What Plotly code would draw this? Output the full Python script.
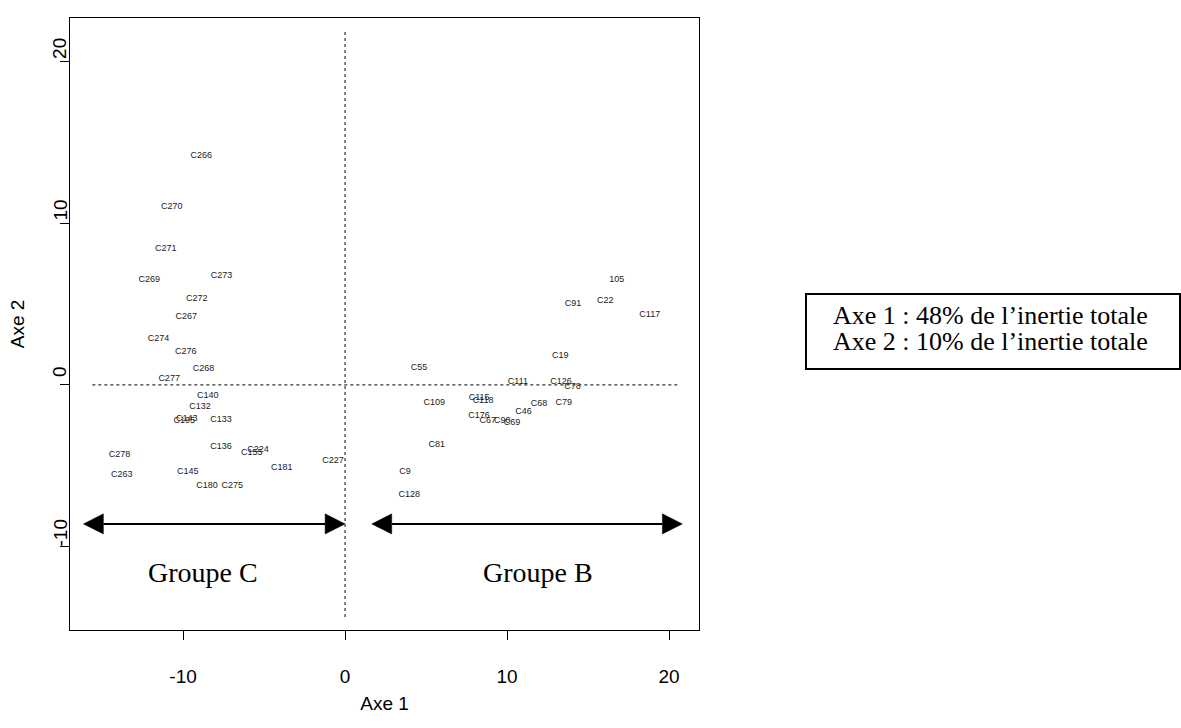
import plotly.graph_objects as go

# Individuals projected on the first factorial plane (Axe 1 x Axe 2)
labels = [
    "C266", "C270", "C271", "C269", "C273", "C272", "C267", "C274", "C276",
    "C268", "C277", "C140", "C132", "C143", "C195", "C133", "C136", "C224",
    "C155", "C278", "C227", "C181", "C263", "C145", "C180", "C275",
    "105", "C91", "C22", "C117", "C19", "C55", "C111", "C126", "C78",
    "C109", "C115", "C118", "C68", "C79", "C46", "C176", "C67", "C90",
    "C69", "C81", "C9", "C128",
]
axe1 = [
    -8.87, -10.70, -11.07, -12.08, -7.63, -9.15, -9.81, -11.52, -9.83,
    -8.74, -10.86, -8.47, -8.95, -9.77, -9.92, -7.65, -7.65, -5.37,
    -5.76, -13.93, -0.74, -3.90, -13.78, -9.71, -8.52, -6.96,
    16.77, 14.07, 16.06, 18.81, 13.29, 4.57, 10.67, 13.33, 14.04,
    5.51, 8.28, 8.52, 11.98, 13.50, 11.01, 8.27, 8.81, 9.71,
    10.30, 5.66, 3.70, 3.97,
]
axe2 = [
    14.19, 11.02, 8.46, 6.50, 6.75, 5.33, 4.21, 2.85, 2.06,
    1.03, 0.37, -0.67, -1.34, -2.11, -2.23, -2.17, -3.84, -4.02,
    -4.21, -4.33, -4.70, -5.14, -5.57, -5.39, -6.25, -6.25,
    6.50, 5.02, 5.20, 4.33, 1.80, 1.05, 0.19, 0.17, -0.12,
    -1.07, -0.76, -0.99, -1.19, -1.11, -1.67, -1.88, -2.23, -2.23,
    -2.34, -3.70, -5.39, -6.81,
]

# Group extents along Axe 1 (double-headed arrows) and their captions
group_names = ["Groupe C", "Groupe B"]
group_start = [-16.15, 1.65]
group_end = [0.0, 20.82]
group_arrow_y = -8.6
group_label_x = [-8.8, 11.88]
group_label_y = -11.6

inertia_lines = [
    "Axe 1 : 48% de l\u2019inertie totale",
    "Axe 2 : 10% de l\u2019inertie totale",
]

x_range = [-16.98, 21.85]
y_range = [-15.17, 22.72]
tick_vals = [-10, 0, 10, 20]
tick_text = ["-10", "0", "10", "20"]

fig = go.Figure()

fig.add_trace(go.Scatter(
    x=axe1, y=axe2, mode="text", text=labels,
    textposition="middle center",
    textfont=dict(family="Arial, Liberation Sans", size=9, color="#1a1a1a"),
    hoverinfo="text", showlegend=False,
))

shapes = []
# dotted reference lines through the origin
shapes.append(dict(type="line", xref="x", yref="y", x0=0, x1=0, y0=-14.37, y1=21.86,
                   line=dict(color="#333333", width=1.2, dash="dot")))
shapes.append(dict(type="line", xref="x", yref="y", x0=-15.6, x1=20.56, y0=0, y1=0,
                   line=dict(color="#333333", width=1.2, dash="dot")))

head_len = 1.23
head_half = 0.62
for xs, xe in zip(group_start, group_end):
    shapes.append(dict(type="line", xref="x", yref="y",
                       x0=xs + head_len, x1=xe - head_len,
                       y0=group_arrow_y, y1=group_arrow_y,
                       line=dict(color="black", width=2)))
    # left arrowhead
    fig.add_trace(go.Scatter(
        x=[xs, xs + head_len, xs + head_len, xs],
        y=[group_arrow_y, group_arrow_y + head_half, group_arrow_y - head_half, group_arrow_y],
        mode="lines", fill="toself", fillcolor="black",
        line=dict(color="black", width=0.5), hoverinfo="skip", showlegend=False))
    # right arrowhead
    fig.add_trace(go.Scatter(
        x=[xe, xe - head_len, xe - head_len, xe],
        y=[group_arrow_y, group_arrow_y + head_half, group_arrow_y - head_half, group_arrow_y],
        mode="lines", fill="toself", fillcolor="black",
        line=dict(color="black", width=0.5), hoverinfo="skip", showlegend=False))

# box holding the inertia percentages
shapes.append(dict(type="rect", xref="paper", yref="paper",
                   x0=1.1701, x1=1.7647, y0=0.4265, y1=0.549,
                   line=dict(color="black", width=2), fillcolor="rgba(0,0,0,0)"))

serif = "Liberation Serif, Times New Roman"
sans = "Arial, Liberation Sans"

annotations = []
for name, gx in zip(group_names, group_label_x):
    annotations.append(dict(x=gx, y=group_label_y, xref="x", yref="y", text=name,
                            showarrow=False,
                            font=dict(family=serif, size=28, color="black")))
for line_text, py in zip(inertia_lines, [0.5131, 0.4706]):
    annotations.append(dict(x=1.4642, y=py, xref="paper", yref="paper", text=line_text,
                            showarrow=False, xanchor="center", yanchor="middle",
                            font=dict(family=serif, size=26, color="black")))

# rotated y tick labels, set just above their tick marks
for tv, tt in zip(tick_vals, tick_text):
    annotations.append(dict(x=0, y=tv, xref="paper", yref="y", text=tt,
                            showarrow=False, textangle=-90,
                            xanchor="center", yanchor="middle",
                            xshift=-10, yshift=13,
                            font=dict(family=sans, size=19, color="black")))

axis_font = dict(family=sans, size=19, color="black")

fig.update_layout(
    width=1181, height=728,
    margin=dict(l=70, r=482, t=18, b=98),
    paper_bgcolor="white", plot_bgcolor="white",
    shapes=shapes, annotations=annotations,
    showlegend=False,
    xaxis=dict(range=x_range, tickvals=tick_vals, ticktext=tick_text,
               showgrid=False, zeroline=False,
               showline=True, mirror=True, linecolor="black", linewidth=1,
               ticks="outside", ticklen=9, tickcolor="black", tickwidth=1,
               tickfont=axis_font, ticklabelstandoff=20,
               title=dict(text="Axe 1", font=axis_font, standoff=10)),
    yaxis=dict(range=y_range, tickvals=tick_vals, showticklabels=False,
               showgrid=False, zeroline=False,
               showline=True, mirror=True, linecolor="black", linewidth=1,
               ticks="outside", ticklen=9, tickcolor="black", tickwidth=1,
               title=dict(text="Axe 2", font=axis_font, standoff=30)),
)

fig.write_html("out.html")
